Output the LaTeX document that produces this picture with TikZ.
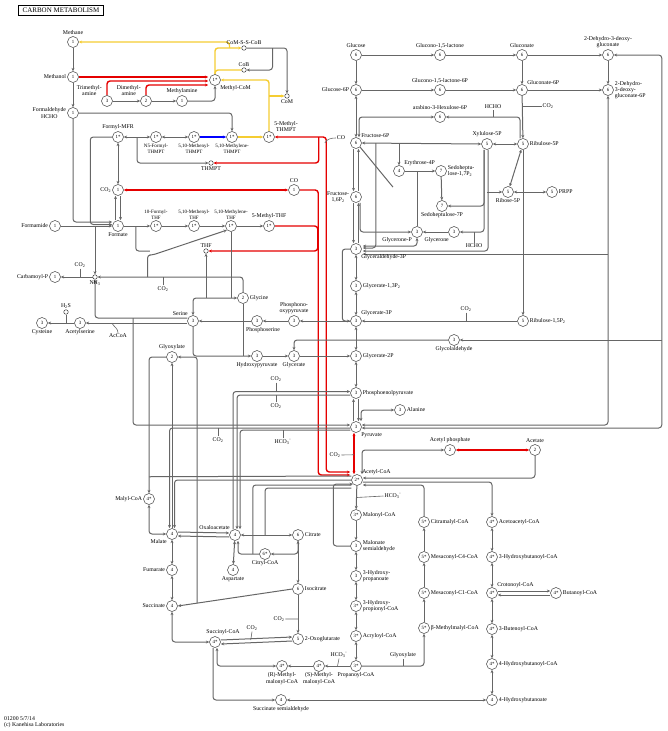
\documentclass[tikz,border=0pt]{standalone}
\usepackage{fontspec}
\setmainfont{Liberation Serif}
\usetikzlibrary{arrows.meta,calc,backgrounds}
\begin{document}
\begin{tikzpicture}[x=1pt,y=-1pt,
 >={Stealth[length=3.4pt,width=3pt]},
 en/.style={circle,draw=black!75,line width=0.5pt,fill=white,minimum size=11pt,inner sep=0pt,font=\fontsize{4.8}{5}\selectfont},
 sm/.style={circle,draw=black!75,line width=0.5pt,fill=white,minimum size=4.5pt,inner sep=0pt},
 lb/.style={font=\fontsize{5.8}{6.2}\selectfont,inner sep=1pt,align=center},
 lbs/.style={font=\fontsize{5}{5.6}\selectfont,inner sep=1pt,align=center},
 ln/.style={draw=black!60,line width=1pt,rounded corners=3pt},
 rd/.style={draw=red!90!black,line width=1.4pt,rounded corners=3pt},
 yl/.style={draw={rgb,255:red,245;green,205;blue,50},line width=1.4pt,rounded corners=3pt},
 bl/.style={draw=blue,line width=1.3pt},
 tk/.style={draw=black!60,line width=0.6pt},
 ttl/.style={draw=black,line width=1.1pt,font=\fontsize{7}{7}\selectfont,inner xsep=4pt,inner ysep=2.5pt}]
\useasboundingbox (0,0) rectangle (667,731);

\node[ttl] (title) at (61,10.5) {CARBON METABOLISM};

% ---- methane metabolism
\node[en,label={[lb]above:Methane}] (methane) at (73,42) {1};
\node[en,label={[lb]left:Methanol}] (methanol) at (73,77) {1};
\node[en,label={[lb]left:Formaldehyde\\HCHO}] (hcho) at (73,113) {1};
\node[en,label={[lb]above left:Trimethyl-\\amine}] (tma) at (107,101) {3};
\node[en,label={[lb]above left:Dimethyl-\\amine}] (dma) at (146,101) {2};
\node[en,label={[lb]above:Methylamine}] (mma) at (182,101) {1};
\node[en,label={[lb]below right:Methyl-CoM}] (mcom) at (215,80) {1*};
\node[sm,label={[lb]above:CoM-S-S-CoB}] (comsscob) at (244,48) {};
\node[sm,label={[lb]above:CoB}] (cob) at (244,70) {};
\node[sm,label={[lb]below:CoM}] (com) at (287,96) {};

\node[en,label={[lb]above:Formyl-MFR}] (fmfr) at (118,137) {1*};
\node[en,label={[lbs]below:N5-Formyl-\\THMPT}] (n5f) at (156,137) {1*};
\node[en,label={[lbs]below:5,10-Methenyl-\\THMPT}] (menthmpt) at (194,137) {1*};
\node[en,label={[lbs]below:5,10-Methylene-\\THMPT}] (mlnthmpt) at (232,137) {1*};
\node[en,label={[lb]above right:5-Methyl-\\THMPT}] (mthmpt) at (269,137) {1*};
\node[sm,label={[lb]below:THMPT}] (thmpt) at (211,163) {};
\node[lb] (tco) at (341,138) {CO};

\node[en,label={[lb]left:CO\textsubscript{2}}] (co2a) at (118,190) {1};
\node[en,label={[lb]above:CO}] (co) at (294,190) {1};
\node[en,label={[lb]below:Formate}] (formate) at (118,226) {1};
\node[en,label={[lb]left:Formamide}] (formamide) at (55,226) {1};
\node[en,label={[lbs]above:10-Formyl-\\THF}] (fthf) at (156,226) {1*};
\node[en,label={[lbs]above:5,10-Methenyl-\\THF}] (menthf) at (194,226) {1*};
\node[en,label={[lbs]above:5,10-Methylene-\\THF}] (mlnthf) at (231,226) {1*};
\node[en,label={[lb]above:5-Methyl-THF}] (mthf) at (269,226) {1*};
\node[sm,label={[lb]above:THF}] (thf) at (206,251) {};
\node[en,label={[lb]left:Carbamoyl-P}] (carbp) at (55,277) {1};
\node[sm,label={[lb]below:NH\textsubscript{3}}] (nh3) at (95,277) {};
\node[lb] (tco2b) at (80,265) {CO\textsubscript{2}};
\node[lb] (tco2c) at (163,289) {CO\textsubscript{2}};

% ---- serine / glycine
\node[en,label={[lb]above left:Serine}] (serine) at (193,321) {3};
\node[en,label={[lb]below:Acetylserine}] (acser) at (80,323) {3};
\node[en,label={[lb]below:Cysteine}] (cys) at (42,323) {3};
\node[sm,label={[lb]above:H\textsubscript{2}S}] (h2s) at (66,312) {};
\node[lb] (tacoa) at (118,336) {AcCoA};
\node[en,label={[lb]right:Glycine}] (glycine) at (243,298) {2};
\node[en,label={[lb,xshift=6pt]below:Phosphoserine}] (phser) at (257,321) {3};
\node[en,label={[lb]above:Phosphono-\\oxypyruvate}] (php) at (294,321) {3};
\node[en,label={[lb]above right:Glycerate-3P}] (gly3p) at (356,321) {3};
\node[en,label={[lb]below:Hydroxypyruvate}] (hpyr) at (257,356) {3};
\node[en,label={[lb]below:Glycerate}] (glycerate) at (294,356) {3};
\node[en,label={[lb]right:Glycerate-2P}] (gly2p) at (356,356) {3};
\node[en,label={[lb]above:Glyoxylate}] (glyox) at (172,357) {2};

% ---- glycolysis / pentose phosphate
\node[en,label={[lb]above:Glucose}] (glc) at (356,55) {6};
\node[en,label={[lb]above:Glucono-1,5-lactone}] (glcl) at (440,55) {6};
\node[en,label={[lb]above:Gluconate}] (gluconate) at (522,55) {6};
\node[en,label={[lb]above:2-Dehydro-3-deoxy-\\gluconate}] (kdg) at (608,55) {6};
\node[en,label={[lb]left:Glucose-6P}] (g6p) at (356,90) {6};
\node[en,label={[lb]above:Glucono-1,5-lactone-6P}] (glcl6p) at (440,90) {6};
\node[en,label={[lb]above right:Gluconate-6P}] (glc6p) at (522,90) {6};
\node[en,label={[lb,align=left]right:2-Dehydro-\\3-deoxy-\\gluconate-6P}] (kdpg) at (608,90) {6};
\node[lb] (tco2d) at (548,106) {CO\textsubscript{2}};
\node[en,label={[lb]above:arabino-3-Hexulose-6P}] (hu6p) at (440,117) {6};
\node[lb] (thcho1) at (493,107) {HCHO};
\node[en,label={[lb]above right:Fructose-6P}] (f6p) at (356,143) {6};
\node[en,label={[lb]above:Xylulose-5P}] (xu5p) at (487,144) {5};
\node[en,label={[lb]right:Ribulose-5P}] (ru5p) at (523,144) {5};
\node[en,label={[lb]above right:Erythrose-4P}] (e4p) at (399,171) {4};
\node[en,label={[lb,align=left]right:Sedoheptu-\\lose-1,7P\textsubscript{2}}] (s17p) at (441,171) {7};
\node[en,label={[lb]left:Fructose-\\1,6P\textsubscript{2}}] (fbp) at (356,197) {6};
\node[en,label={[lb]below:Sedoheptulose-7P}] (s7p) at (442,206) {7};
\node[en,label={[lb]below:Ribose-5P}] (r5p) at (508,192) {5};
\node[en,label={[lb]right:PRPP}] (prpp) at (552,192) {5};
\node[en,label={[lb]below left:Glycerone-P}] (dhap) at (417,232) {3};
\node[en,label={[lb]below left:Glycerone}] (glycerone) at (454,232) {3};
\node[lb] (thcho2) at (474,246) {HCHO};
\node[en,label={[lb]below right:Glyceraldehyde-3P}] (ga3p) at (356,249) {3};
\node[en,label={[lb]right:Glycerate-1,3P\textsubscript{2}}] (bpg) at (356,286) {3};
\node[en,label={[lb]right:Phosphoenolpyruvate}] (pep) at (356,393) {3};
\node[en,label={[lb]right:Alanine}] (ala) at (400,410) {3};
\node[en,label={[lb]below right:Pyruvate}] (pyr) at (356,427) {3};
\node[en,label={[lb]above right:Acetyl-CoA}] (accoa) at (357,480) {2*};
\node[en,label={[lb]above:Acetyl phosphate}] (acp) at (450,450) {2};
\node[en,label={[lb]above:Acetate}] (acetate) at (535,450) {2};
\node[en,label={[lb]right:Ribulose-1,5P\textsubscript{2}}] (rubp) at (523,321) {5};
\node[lb] (tco2e) at (466,309) {CO\textsubscript{2}};
\node[en,label={[lb]below:Glycolaldehyde}] (glyald) at (454,340) {3};

\node[lb] (tco2f) at (276,379) {CO\textsubscript{2}};
\node[lb] (tco2g) at (276,406) {CO\textsubscript{2}};
\node[lb] (thco3a) at (283,442) {HCO\textsubscript{3}\textsuperscript{-}};
\node[lb] (tco2h) at (218,440) {CO\textsubscript{2}};
\node[lb] (tco2i) at (335,455) {CO\textsubscript{2}};

% ---- lower pathways
\node[lb] (thco3b) at (393,496) {HCO\textsubscript{3}\textsuperscript{-}};
\node[en,label={[lb]right:Malonyl-CoA}] (malcoa) at (356,515) {3*};
\node[en,label={[lb,align=left]right:Malonate\\semialdehyde}] (malsa) at (356,546) {3};
\node[en,label={[lb,align=left]right:3-Hydroxy-\\propanoate}] (hp) at (356,576) {3};
\node[en,label={[lb,align=left]right:3-Hydroxy-\\propionyl-CoA}] (hpcoa) at (356,606) {3*};
\node[en,label={[lb]right:Acryloyl-CoA}] (acrcoa) at (356,636) {3*};
\node[en,label={[lb]below:Propanoyl-CoA}] (propcoa) at (356,666) {3*};
\node[lb] (thco3c) at (339,655) {HCO\textsubscript{3}\textsuperscript{-}};
\node[en,label={[lb]below:(S)-Methyl-\\malonyl-CoA}] (smmcoa) at (319,666) {4*};
\node[en,label={[lb]below:(R)-Methyl-\\malonyl-CoA}] (rmmcoa) at (282,666) {4*};
\node[lb] (tglyox) at (403,655) {Glyoxylate};
\node[en,label={[lb,xshift=8pt]above:Succinyl-CoA}] (succoa) at (215,642) {4*};
\node[en,label={[lb]below:Succinate semialdehyde}] (ssa) at (281,700) {4};
\node[en,label={[lb]right:4-Hydroxybutanoate}] (hb) at (492,700) {4};
\node[en,label={[lb]right:Citramalyl-CoA}] (citmcoa) at (424,522) {5*};
\node[en,label={[lb]right:Mesaconyl-C4-CoA}] (mesc4) at (424,557) {5*};
\node[en,label={[lb]right:Mesaconyl-C1-CoA}] (mesc1) at (424,593) {5*};
\node[en,label={[lb]right:β-Methylmalyl-CoA}] (bmm) at (424,628) {5*};
\node[en,label={[lb]right:Acetoacetyl-CoA}] (aacoa) at (492,522) {4*};
\node[en,label={[lb]right:3-Hydroxybutanoyl-CoA}] (hbcoa) at (492,557) {4*};
\node[en,label={[lb]above right:Crotonoyl-CoA}] (crcoa) at (492,593) {4*};
\node[en,label={[lb]right:Butanoyl-CoA}] (bucoa) at (556,593) {4*};
\node[en,label={[lb]right:3-Butenoyl-CoA}] (bucoa3) at (492,629) {4*};
\node[en,label={[lb]right:4-Hydroxybutanoyl-CoA}] (hbucoa) at (492,664) {4*};

% ---- TCA
\node[en,label={[lb]left:Malyl-CoA}] (malylcoa) at (149,499) {4*};
\node[en,label={[lb]below left:Malate}] (malate) at (172,534) {4};
\node[en,label={[lb]above left:Oxaloacetate}] (oaa) at (235,535) {4};
\node[en,label={[lb]right:Citrate}] (citrate) at (298,535) {6};
\node[en,label={[lb]below:Citryl-CoA}] (citcoa) at (265,554) {6*};
\node[en,label={[lb]below:Aspartate}] (asp) at (233,570) {4};
\node[en,label={[lb]left:Fumarate}] (fum) at (172,570) {4};
\node[en,label={[lb]left:Succinate}] (succ) at (172,606) {4};
\node[en,label={[lb]right:Isocitrate}] (isocit) at (298,589) {6};
\node[en,label={[lb]right:2-Oxoglutarate}] (og) at (298,639) {5};
\node[lb] (tco2j) at (279,619) {CO\textsubscript{2}};
\node[lb] (tco2k) at (252,628) {CO\textsubscript{2}};

\node[lb,align=left,anchor=south west] (foot) at (3,729) {01200 5/7/14\\(c) Kanehisa Laboratories};

\coordinate (rx) at ($(kdg.east)+(48,0)$);
\coordinate (pyrA) at ($(pyr.west)+(0,1)$);
\coordinate (pyrB) at ($(pyr.west)+(0,3)$);
\coordinate (pepA) at ($(pep.west)+(0,-1.5)$);
\coordinate (pepB) at ($(pep.west)+(0,2)$);
\coordinate (ga3pR) at ($(ga3p.east)+(1,5)$);

\begin{pgfonlayer}{background}
% methane
\draw[ln,->] (methane) -- (methanol);
\draw[ln,->] (methanol) -- (hcho);
\draw[ln,->] (hcho.south) |- ($(formate.west)+(0,-4)$);
\draw[ln,->] (fmfr.west) -- ++(-22,0) |- ($(formate.west)+(0,-1.5)$);
\draw[ln,->] (formamide) -- (formate);
\draw[ln,->] (nh3.north |- formamide.east) -- (nh3.north);
\draw[ln,<->] (fmfr) -- (co2a);
\draw[ln,->] ($(formate.north)+(-2.5,0)$) -- ($(co2a.south)+(-2.5,0)$);
\draw[ln,->] ($(co2a.south)+(2.5,0)$) -- ($(formate.north)+(2.5,0)$);
\draw[ln,<->] (fmfr) -- (n5f);
\draw[ln,<->] (n5f) -- (menthmpt);
\draw[bl,->] (menthmpt) -- (mlnthmpt);
\draw[yl,->] (mlnthmpt) -- (mthmpt);
\draw[ln,->] ($(fmfr)!0.5!(n5f)$) |- (thmpt.west);
\draw[ln,->] (hcho.east) -| (mlnthmpt.north);
\draw[ln,->] (tma) -- (dma);
\draw[ln,->] (dma) -- (mma);
\draw[ln,->] (mma.east) -| (mcom.south);
\draw[rd,->] (methanol.east) -- ($(mcom.west)+(-1,-3)$);
\draw[rd,->] (tma.north) |- ($(mcom.west)+(-1,1)$);
\draw[rd,->] (dma.north) |- ($(mcom.west)+(-1,5)$);
\draw[yl] (mcom.north) |- (cob.west);
\draw[yl,->] (mcom.north) |- (comsscob.west);
\draw[yl,->] ($(comsscob.west)+(-12,0)$) |- (methane.east);
\draw[yl,->] (mthmpt.north) |- (mcom.east);
\draw[yl,->] (mthmpt.north |- com.west) -- (com.west);
\draw[ln,->] (comsscob.east) -| (com.north);
\draw[ln,->] ($(comsscob.east)+(26,0)$) |- (cob.east);
\draw[rd,<->] (mthmpt.east) -| ($(accoa.west)+(-25,-8)$) -- ($(accoa.west)+(-1,-8)$);
\draw[rd,->] ($(mthmpt.east)+(44,0)$) |- (thmpt.east);
\draw[tk] (tco.west) to[out=180,in=60] ($(mthmpt.east)+(50,6)$);
\draw[rd,<->] (co2a) -- (co);
\draw[rd,->] (co.east) -| ($(accoa.west)+(-33,-5)$) -- ($(accoa.west)+(-1,-5)$);
\draw[rd,->] (mthf.east) -- ++(43,0) |- (thf.east);
\draw[rd,<->] ($(pyr.south)+(-2,0)$) -- ($(accoa.north)+(-3,0)$);
\draw[tk] (tco2i.east) -- ($(pyr.south)+(-2,22)$);
% THF
\draw[ln,->] (formate) -- (fthf);
\draw[ln] ($(formate.east)+(12,0)$) |- ++(14,25);
\draw[ln,->] ($(nh3.east)+(50,0)$) |- ++(5,-22) -- (mlnthf.south west);
\draw[ln,->] (fthf) -- (menthf);
\draw[ln,->] (menthf) -- (mlnthf);
\draw[ln,->] (mlnthf) -- (mthf);
\draw[ln,<->] (serine.north) |- (glycine.west);
\draw[ln,<-] (thf.south) -- (thf.south |- glycine.west);
\draw[ln] (mlnthf.south) -- (mlnthf.south |- glycine.west);
\draw[ln,->] (nh3.west) -- (carbp.east);
\draw[tk] (tco2b.south) -- (tco2b.south |- nh3.center);
\draw[ln,->] (glycine.north) |- (nh3.east);
\draw[tk] (tco2c.north) -- (tco2c.north |- nh3.center);
\draw[ln,->] ($(serine.west)+(0,-3)$) -| (nh3.south);
\draw[ln,->] ($(nh3.south |- serine.west)+(38,-3)$) |- ($(pyr.west)+(0,-2)$);
\draw[ln,->] ($(serine.west)+(0,2)$) -- (acser.east);
\draw[tk] (tacoa.north) to[out=90,in=-60] ($(acser.east)+(26,0)$);
\draw[ln,->] (acser) -- (cys);
\draw[tk] (h2s.south) -- (h2s.south |- cys.center);
\draw[ln,->] (phser) -- (serine);
\draw[ln,->] (php) -- (phser);
\draw[ln,->] (gly3p) -- (php);
\draw[ln,->] (serine.south) |- (hpyr.west);
\draw[ln] (glycine.south) -- (glycine.south |- hpyr.west);
\draw[ln,->] (hpyr) -- (glycerate);
\draw[ln,->] (glycerate) -- (gly2p);
\draw[ln,->] (glyald.west) -| (glycerate.north);
\draw[ln,->] (rx |- glyald.east) -- (glyald.east);
% glyoxylate / malate
\draw[ln,->] (glyox.west) -| (malylcoa.north);
\draw[ln] ($(accoa.west)+(0,-4)$) -- ($(malylcoa.north)+(0,-16.5)$);
\draw[ln,<->] (malylcoa.south) |- (malate.west);
\draw[ln,<-] (glyox.south) -- (malate.north);
\draw[ln,->] (pyrA) -| ($(malate.north)+(-2.5,0)$);
\draw[tk] (tco2h.north) -- (tco2h.north |- pyrA);
\draw[ln,->] (accoa.west) -| ($(malate.north)+(2.5,0)$);
\draw[ln,->] (pyrB) -| ($(oaa.north)+(5,0)$);
\draw[tk] (thco3a.north) -- (thco3a.north |- pyrB);
\draw[ln,->] ($(oaa.north)+(-2,0)$) |- (pepA);
\draw[ln,->] (pepB) -| ($(oaa.north)+(2,0)$);
\draw[tk] (tco2f.south) -- (tco2f.south |- pepA);
\draw[tk] (tco2g.north) -- (tco2g.north |- pepB);
% pep / pyruvate / acetyl-CoA
\draw[ln,<->] (gly2p) -- (pep);
\draw[ln,->] ($(pyr.north)+(-2.5,0)$) -- ($(pep.south)+(-2.5,0)$);
\draw[ln,->] ($(pep.south)+(2.5,0)$) -- ($(pyr.north)+(2.5,0)$);
\draw[ln,<->] ($(pyr.north)+(5,0)$) |- (ala.west);
\draw[ln,<->] (acp.west) -| ($(accoa.north)+(5,0)$);
\draw[rd,<->] (acp) -- (acetate);
\draw[ln,->] (acetate.south) |- ($(accoa.east)+(0,-2)$);
\draw[ln,->] ($(accoa.east)+(0,2)$) -| (aacoa.north);
\draw[ln,->] (citmcoa.north) |- ($(accoa.east)+(0,5)$);
\draw[ln,->] (accoa) -- (malcoa);
\draw[tk] (thco3b.west) -- ($(accoa.south)!0.5!(malcoa.north)$);
\draw[ln,->] (malcoa) -- (malsa);
\draw[ln,<->] (malsa) -- (hp);
\draw[ln,<->] (hp) -- (hpcoa);
\draw[ln,<->] (hpcoa) -- (acrcoa);
\draw[ln,<->] (acrcoa) -- (propcoa);
\draw[ln,->] (malsa.west) -- ++(-17,0) |- (accoa.south west);
\draw[ln,->] (propcoa) -- (smmcoa);
\draw[tk] (thco3c.south) -- ($(propcoa.west)!0.5!(smmcoa.east)$);
\draw[ln,->] (smmcoa) -- (rmmcoa);
\draw[ln,<->] ($(succoa.south)+(2,0)$) |- (rmmcoa.west);
\draw[ln,->] ($(succoa.south)+(-2,0)$) |- (ssa.west);
\draw[ln,<->] (ssa) -- (hb);
\draw[ln,->] (propcoa.east) -| (bmm.south);
\draw[tk] (tglyox.south) -- (tglyox.south |- propcoa.center);
\draw[ln,->] (bmm) -- (mesc1);
\draw[ln,->] (mesc1) -- (mesc4);
\draw[ln,->] (mesc4) -- (citmcoa);
\draw[ln,<->] (aacoa) -- (hbcoa);
\draw[ln,<->] (hbcoa) -- (crcoa);
\draw[ln,<->] (crcoa) -- (bucoa3);
\draw[ln,<->] (bucoa3) -- (hbucoa);
\draw[ln,<->] (hbucoa) -- (hb);
\draw[ln,->] ($(crcoa.east)+(0,-2)$) -- ($(bucoa.west)+(0,-2)$);
\draw[ln,->] ($(bucoa.west)+(0,2)$) -- ($(crcoa.east)+(0,2)$);
% TCA
\draw[ln,<->] (malate) -- (fum);
\draw[ln,<->] (fum) -- (succ);
\draw[ln,<->] (succ.south) |- (succoa.west);
\draw[ln,->] ($(malate.east)+(0,-2)$) -- ($(oaa.west)+(0,-2)$);
\draw[ln,->] ($(oaa.west)+(0,2)$) -- ($(malate.east)+(0,2)$);
\draw[ln,<->] (oaa) -- (citrate);
\draw[ln,->] (citrate.south) |- (citcoa.east);
\draw[ln,->] (citcoa.west) -| ($(oaa.south)+(3,0)$);
\draw[ln] ($(accoa.west)+(0,8)$) -| (citcoa.north |- citrate.west);
\draw[ln] ($(accoa.west)+(0,5)$) -| ($(citcoa.west)+(-6.5,0)$);
\draw[ln,<->] (oaa) -- (asp);
\draw[ln,<->] (citrate) -- (isocit);
\draw[ln,->] (isocit) -- (og);
\draw[tk] (tco2j.east) -- ($(isocit)!0.6!(og)$);
\draw[ln,->] ($(succoa.east)+(0,-2)$) -- ($(og.west)+(0,-2)$);
\draw[ln,->] ($(og.west)+(0,2)$) -- ($(succoa.east)+(0,2)$);
\draw[tk] (tco2k.south) -- ($(succoa.east)+(30,-2)$);
\draw[ln,->] (isocit.west) -- (succ.east);
\draw[ln,->] ($(succ.east)!0.17!(isocit.west)$) |- (glyox.east);
% glycolysis / PPP
\draw[ln,->] (glc) -- (g6p);
\draw[ln,->] (glc) -- (glcl);
\draw[ln,->] (glcl) -- (gluconate);
\draw[ln,->] (gluconate) -- (kdg);
\draw[ln,->] (g6p) -- (glcl6p);
\draw[ln,->] (glcl6p) -- (glc6p);
\draw[ln,->] (glc6p) -- (kdpg);
\draw[ln,->] (gluconate) -- (glc6p);
\draw[ln,->] (kdg) -- (kdpg);
\draw[ln,->] (glc6p) -- (ru5p);
\draw[tk] (tco2d.west) -- (tco2d.west -| glc6p.center);
\draw[ln,->] ($(ru5p.north)+(-3,0)$) |- (hu6p.east);
\draw[tk] (thcho1.south) -- (thcho1.south |- hu6p.center);
\draw[ln,<->] ($(f6p.north)+(3,0)$) |- (hu6p.west);
\draw[ln,<->] (g6p) -- (f6p);
\draw[ln,->] ($(f6p.south)+(-2.5,0)$) -- ($(fbp.north)+(-2.5,0)$);
\draw[ln,->] ($(fbp.north)+(2.5,0)$) -- ($(f6p.south)+(2.5,0)$);
\draw[ln,->] ($(fbp.south)+(-2.5,0)$) -- ($(ga3p.north)+(-2.5,0)$);
\draw[ln,->] ($(ga3p.north)+(2.5,0)$) -- ($(fbp.south)+(2.5,0)$);
\draw[ln,->] ($(fbp.south)+(4,0)$) |- (dhap.west);
\draw[ln,<->] (dhap.south) |- ($(ga3p.east)+(1,-3)$);
\draw[ln,<-] (dhap) -- (glycerone);
\draw[tk] (thcho2.north) -- (thcho2.north |- glycerone.center);
\draw[ln,->] ($(xu5p.south)+(-3,0)$) |- (glycerone.east);
\draw[ln,->] ($(xu5p.south)+(-3,0)$) |- (s7p.east);
\draw[ln,->] ($(xu5p.south)+(1,0)$) |- ($(ga3p.east)+(1,2)$);
\draw[ln,<->] (xu5p) -- (ru5p);
\draw[ln,<->] (f6p.east) -- (xu5p.west);
\draw[ln,->] (f6p.east -| e4p.north) -- (e4p.north);
\draw[ln,->] ($(f6p.east)+(14,0)$) |- ($(ga3p.east)+(1,-1)$);
\draw[ln] (f6p.south east) -- ($(e4p.south west)+(-2,12)$);
\draw[ln,->] (e4p) -- (s17p);
\draw[ln] (dhap.north) -- (dhap.north |- e4p.east);
\draw[ln,->] (s17p) -- (s7p);
\draw[ln,<->] (ru5p) -- (r5p);
\draw[ln,->] (xu5p.south |- r5p.west) -- (r5p.west);
\draw[ln,<->] (r5p) -- (prpp);
\draw[ln,->] (ru5p) -- (rubp);
\draw[ln,->] (rubp) -- (gly3p);
\draw[tk] (tco2e.south) -- (tco2e.south |- rubp.center);
\draw[ln,->] (ga3p.west) -- ++(-8,0) |- (gly3p.west);
\draw[ln,<->] (ga3p) -- (bpg);
\draw[ln,<->] (bpg) -- (gly3p);
\draw[ln,<->] (gly3p) -- (gly2p);
\draw[ln,<->] ($(pyr.east)+(0,-2)$) -| (kdpg.south);
\draw[ln,<->] ($(pyr.east)+(0,1)$) -| (rx) -- (kdg.east);
\draw[ln,->] (kdpg.south |- ga3pR) -- (ga3pR);
\end{pgfonlayer}
\end{tikzpicture}
\end{document}
